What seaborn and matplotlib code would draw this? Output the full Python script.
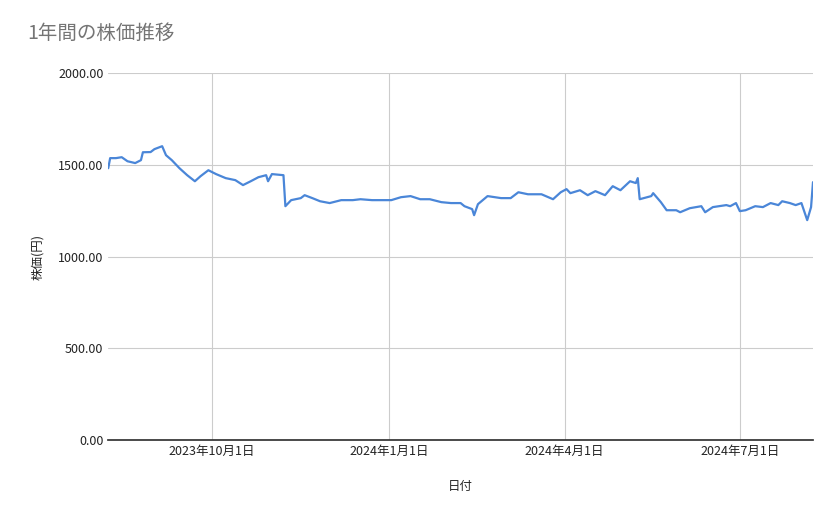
import pandas as pd
import seaborn as sns
import matplotlib.pyplot as plt
from matplotlib.ticker import FuncFormatter

# days after 2023-08-08 and closing price (yen)
days = [0, 1, 4, 7, 10, 14, 17, 18, 22, 24, 28, 30, 33, 37, 41, 45, 48, 52, 56, 61,
        66, 70, 74, 78, 82, 83, 85, 91, 92, 95, 100, 102, 106, 110, 115, 121, 127, 131,
        137, 147, 152, 157, 162, 167, 173, 178, 183, 185, 189, 190, 192, 197, 204, 209,
        213, 218, 225, 231, 235, 238, 240, 245, 249, 253, 258, 262, 266, 271, 274, 275,
        276, 282, 283, 287, 290, 295, 297, 302, 308, 310, 314, 321, 323, 326, 328, 331,
        336, 340, 344, 348, 350, 354, 357, 360, 363, 365, 366]
prices = [1482, 1537, 1537, 1542, 1520, 1510, 1526, 1569, 1570, 1586, 1602, 1553, 1526,
          1482, 1444, 1411, 1439, 1471, 1450, 1428, 1417, 1390, 1411, 1433, 1444, 1411,
          1450, 1444, 1275, 1308, 1319, 1335, 1319, 1302, 1292, 1308, 1308, 1313, 1308,
          1308, 1324, 1330, 1313, 1313, 1297, 1292, 1292, 1275, 1259, 1226, 1286, 1330,
          1319, 1319, 1351, 1340, 1340, 1313, 1351, 1368, 1346, 1362, 1335, 1357, 1335,
          1384, 1362, 1411, 1401, 1428, 1313, 1330, 1346, 1297, 1253, 1253, 1242, 1264,
          1275, 1242, 1270, 1281, 1275, 1292, 1248, 1253, 1275, 1270, 1292, 1281, 1302,
          1292, 1281, 1292, 1199, 1270, 1406]

start = pd.Timestamp("2023-08-08")
df = pd.DataFrame({"date": start + pd.to_timedelta(days, unit="D"), "price": prices})

sns.set_theme(style="whitegrid")
plt.rcParams['font.family'] = ['Noto Sans CJK JP', 'DejaVu Sans']

fig, ax = plt.subplots(figsize=(8.39, 5.19), dpi=100)
fig.subplots_adjust(left=0.129, right=0.969, top=0.859, bottom=0.152)
sns.lineplot(data=df, x="date", y="price", ax=ax, color="#4a86d8", linewidth=1.6)

ax.set_xlim(start, start + pd.Timedelta(days=366))
ax.set_ylim(0, 2000)
ax.set_yticks([0, 500, 1000, 1500, 2000])
ax.yaxis.set_major_formatter(FuncFormatter(lambda v, p: f"{v:.2f}"))
ticks = pd.to_datetime(["2023-10-01", "2024-01-01", "2024-04-01", "2024-07-01"])
ax.set_xticks(ticks)
ax.set_xticklabels([f"{t.year}年{t.month}月{t.day}日" for t in ticks])
ax.tick_params(labelsize=9, colors="#222222", length=0)
ax.grid(color="#cccccc", linewidth=0.8)
for s in ["top", "right", "left"]:
    ax.spines[s].set_visible(False)
ax.spines["bottom"].set_color("#333333")
ax.set_xlabel("日付", fontsize=9, labelpad=16)
ax.set_ylabel("株価(円)", fontsize=9, labelpad=10)
fig.text(0.033, 0.925, "1年間の株価推移", fontsize=14, color="#757575")

fig.savefig("out.png", dpi=100)
